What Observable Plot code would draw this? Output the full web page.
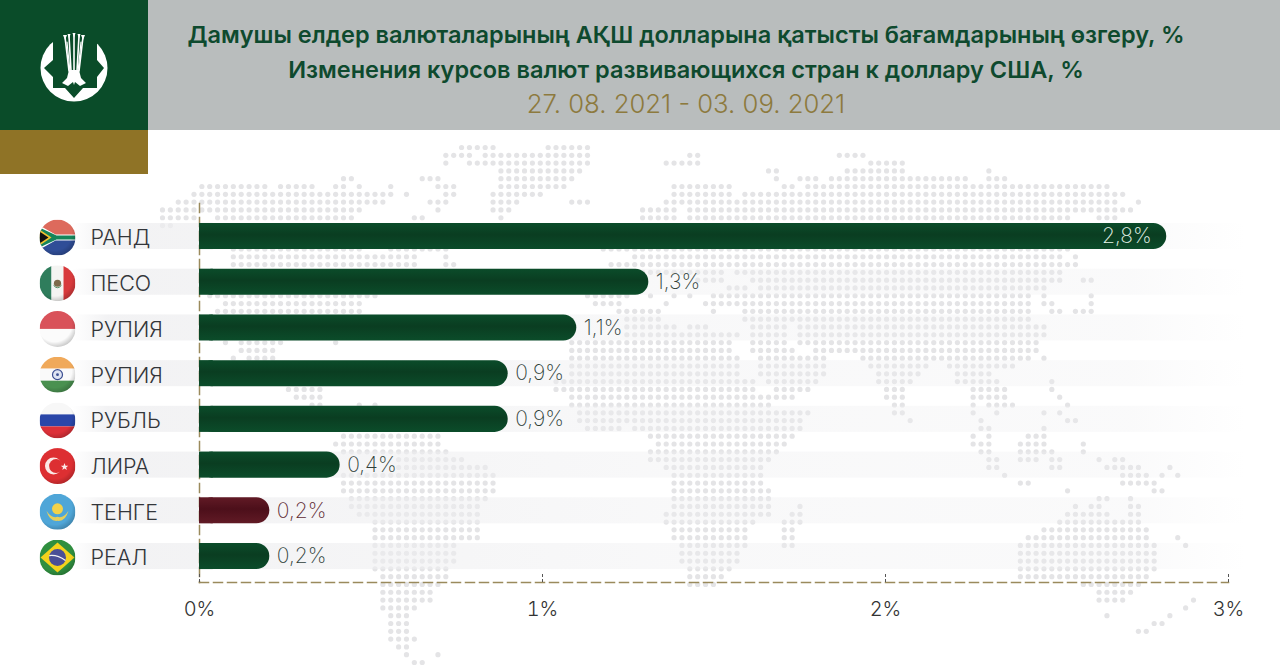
<!DOCTYPE html>
<html lang="ru">
<head>
<meta charset="utf-8">
<script src="https://cdn.jsdelivr.net/npm/d3@7"></script>
<script src="https://cdn.jsdelivr.net/npm/@observablehq/plot@0.6"></script>
<style>
html,body{margin:0;padding:0;background:#fff;width:1280px;height:668px;overflow:hidden}
body{position:relative;font-family:Inter,"Open Sans",sans-serif}
#band{position:absolute;left:148px;top:0;width:1132px;height:130px;background:#b9bdbd}
#green{position:absolute;left:0;top:0;width:148px;height:130px;background:#0a4c29}
#gold{position:absolute;left:0;top:130px;width:148px;height:44px;background:#8f7326}
#logo{position:absolute;left:34px;top:28px}
.t{position:absolute;left:148px;width:1076px;text-align:center;white-space:nowrap}
#t1,#t2{font-size:23.5px;font-weight:600;color:#0e4a2e;line-height:30px}
#t1{top:20px}#t2{top:55px}
#t3{top:87px;font-size:25.7px;font-weight:300;color:#8d7a3e;line-height:34px}
#map,#chart{position:absolute;left:0}
#map{top:0}#chart{top:130px}
svg{background:transparent!important;font-family:Inter,"Open Sans",sans-serif}
</style>
</head>
<body>
<div id="map"></div>
<div id="band"></div>
<div id="green"></div>
<div id="gold"></div>
<svg id="logo" width="80" height="80" viewBox="0 0 80 80" style="overflow:visible">
<circle cx="40" cy="40" r="33.5" fill="#fff"/>
<path d="M10 40 L19 32 V-4 H63 V32 L70 40 L63 49 V60 H49 L40 70 L31 60 H19 V49 Z" fill="#0a4c29"/>
<g stroke="#fff" fill="none" stroke-linecap="round">
<path d="M31 9 L35 43 M35 8 L37 43 M40 7 V45 M45 8 L43 43 M49 9 L45 43" stroke-width="1.6"/>
<path d="M33 14 L36 44 H44 L47 14" stroke-width="1.2"/>
</g>
<path d="M29 7 L31 12 L33 7Z M33.500 6 L35 11 L36.500 6Z M38.500 5 L40 10 L41.500 5Z M43.500 6 L45 11 L46.500 6Z M47 7 L49 12 L51 7Z" fill="#fff"/>
<path d="M35 42 H45 L47 50 L52 55 L46 58 L41 54 L40 57 L39 54 L34 58 L28 55 L33 50Z" fill="#fff"/>
</svg>
<div id="t1" class="t">Дамушы елдер валюталарының АҚШ долларына қатысты бағамдарының өзгеру, %</div>
<div id="t2" class="t">Изменения курсов валют развивающихся стран к доллару США, %</div>
<div id="t3" class="t">27. 08. 2021 - 03. 09. 2021</div>
<div id="chart"></div>
<script>
// Chart values
const currencies = ["РАНД","ПЕСО","РУПИЯ ","РУПИЯ","РУБЛЬ","ЛИРА","ТЕНГЕ","РЕАЛ"];
const changes = [2.82,1.31,1.10,0.90,0.90,0.41,0.205,0.205];
const shown = ["2,8%","1,3%","1,1%","0,9%","0,9%","0,4%","0,2%","0,2%"];
const barTone = ["g","g","g","g","g","g","r","g"];
const axisTicks = [0,1,2,3];

// Dotted world map: one entry per grid row, runs of occupied grid columns
const mapRows = [
"38-42 49-54","36-39 41-54 67-68 86-89","36 39-54 64-68 90-94","43-53 77-78 87-94 105",
"23-24 33-35 43-52 78 81-83 85-102 105-107","5-13 15-19 22-23 25 29 35-37 43-51 65-72 79-80 82-120",
"4-29 31 36-37 42-48 65-72 74-122","2-28 34-36 42-45 52-54 64-121 124","0-25 35 42-44 61-65 67-123",
"0-4 7-24 32-33 43 61-65 67-115 119-121","0-1","","",
"9-25 29-36 56-115","9-32 36 60-114 116","9-32 36-37 57-116","60-71 73-114","68-71 75-114 117-118","72-74 76-112",
"6-27 54-59 62 65 67 70-110 112 118","8-25 55-58 64 69-110 112-113 118","7-25 58-63 70 74-110 113-114 116-118",
"59-63 74-110","59-65 67-69 75-79 81-112","59-73 75-79 81-112","8 10-15 22 52-72 75-79 81-111","10-14 52-72 75-80 83-111",
"9 11-14 52-73 76-84 89-110 112","52-73 76-84 90-97 100-108","52-73 76-84 91-96 101-105","50-75 77-83 91-95 101-106 113",
"16-20 50-75 78-82 92-94 103-107 113","17-20 52-80 92-94 103-107 114","19-20 25 27 52-77 93-94 103 105-108 115",
"53-82 93-94 103 106 112 114","53-81 95 104 115-116","54-58 60-81 104-105 112","23-35 62-80 103 105 110-112",
"22-35 63-79 103-105 109-112 117","23-36 62-78 104-105 109-113 117","30-38 62-77 105-106 109-111 113-114 119 121-122",
"30-41 64-76 105-106 113-114 120-124 128","23-42 65-76 107 122-125 127 129","23-42 65-76 109-110 122-126",
"23-42 65-77 115 126-127","24-41 65-77 119-120 123","24-40 65-77 81 116 118-119 123-124","25-40 64-77 80-81 115-120 123-124",
"27-40 64-75 79-81 114-124","27-40 65-74 79-80 112-125","27-40 65-74 79-80 110-125 129","27-37 66-74 79-80 109-126 130",
"27-37 66-73 109-126","27-37 66-73 109-126","27-36 67-72 109-126","28-36 67-71 109-125","28-35 67-70 117-124",
"28-34 119-123","28-34 119-122 131","28-32 130","29-31 120 128","29-31 126-127","29-31 124-125","29-32","30-31","31 35","32-33"
];

// Round flags, one small picture per row
const wrap = s => "data:image/svg+xml," + encodeURIComponent(
 `<svg xmlns="http://www.w3.org/2000/svg" viewBox="0 0 36 36"><defs><radialGradient id="s" cx=".42" cy=".38" r=".68"><stop offset=".7" stop-color="#000" stop-opacity="0"/><stop offset="1" stop-color="#000" stop-opacity=".25"/></radialGradient></defs>${s}<rect width="36" height="36" fill="url(#s)"/></svg>`);
const flags = [
 wrap(`<rect width="36" height="18" fill="#dd6a5c"/><rect y="18" width="36" height="18" fill="#2f4d97"/><path d="M0 6 L16 15 H36 V21 H16 L0 30Z" fill="#fff"/><path d="M0 8 L17 16 H36 V20 H17 L0 28Z" fill="#16855a"/><path d="M0 10 L12 18 L0 26Z" fill="#f2c230"/><path d="M0 12 L9 18 L0 24Z" fill="#111"/>`),
 wrap(`<rect width="12" height="36" fill="#2f7d5c"/><rect x="12" width="12" height="36" fill="#f4f4f2"/><rect x="24" width="12" height="36" fill="#d83a3c"/><circle cx="18" cy="18" r="3.6" fill="#7d6a4a"/><path d="M14 20 Q18 25 22 20" stroke="#4c8a5c" fill="none"/>`),
 wrap(`<rect width="36" height="18" fill="#d9525a"/><rect y="18" width="36" height="18" fill="#fbfbfb"/>`),
 wrap(`<rect width="36" height="12" fill="#f0a95a"/><rect y="12" width="36" height="12" fill="#fafafa"/><rect y="24" width="36" height="12" fill="#4a9150"/><circle cx="18" cy="18" r="5" fill="#dfe4f2" stroke="#3c4f92" stroke-width="1.2"/><circle cx="18" cy="18" r="1.4" fill="#3c4f92"/>`),
 wrap(`<rect width="36" height="12" fill="#f7f7f7"/><rect y="12" width="36" height="12" fill="#2a46a8"/><rect y="24" width="36" height="12" fill="#dc3038"/>`),
 wrap(`<rect width="36" height="36" fill="#dd2f32"/><circle cx="14" cy="18" r="8.5" fill="#fbe9e6"/><circle cx="16.6" cy="18" r="7" fill="#dd2f32"/><path d="M25 15 L26 17.6 L28.8 17.7 L26.6 19.4 L27.4 22 L25 20.5 L22.8 22 L23.5 19.4 L21.3 17.7 L24 17.6Z" fill="#fbe9e6"/>`),
 wrap(`<rect width="36" height="36" fill="#4fa6d8"/><circle cx="18" cy="15" r="5.5" fill="#f3d24a"/><path d="M7 17 Q12 25 18 23 Q24 25 29 17 Q26 28 18 27 Q10 28 7 17Z" fill="#e7cf5a"/>`),
 wrap(`<rect width="36" height="36" fill="#2f8f3f"/><path d="M18 3 L35 18 L18 33 L1 18Z" fill="#f4d21c"/><circle cx="18" cy="18" r="8.5" fill="#4a4f96"/><path d="M9.8 16 Q18 15 26 21" stroke="#f3f3f3" stroke-width="1.2" fill="none"/>`)
];

const rows = currencies.map((c,i)=>({c,v:changes[i],s:shown[i],t:barTone[i],f:flags[i]}));
const dots = mapRows.flatMap((runs,row)=>runs.split(" ").filter(Boolean).flatMap(run=>{
  const [a,b=a] = run.split("-").map(Number);
  return d3.range(a,b+1).map(col=>({col,row}));
}));

const map = Plot.plot({
  width:1280,height:668,margin:0,
  x:{axis:null,domain:[0,131],range:[162,1193]},
  y:{axis:null,domain:[0,66],range:[147,662]},
  marks:[Plot.dot(dots,{x:"col",y:"row",r:2.6,fill:"#e4e4e6"})]
});
document.getElementById("map").append(map);

const defs = () => {
  const d = d3.create("svg:defs");
  const v = (id,a,b) => {
    const g = d.append("linearGradient").attr("id",id).attr("x1",0).attr("y1",0).attr("x2",0).attr("y2",1);
    [[0,a],[.45,b],[1,a]].forEach(([o,c])=>g.append("stop").attr("offset",o).attr("stop-color",c));
  };
  v("barG","#0b4c2a","#0a3d21");
  v("barR","#611a25","#4c0f1a");
  const h = d.append("linearGradient").attr("id","rowG");
  [[0,0],[.03,.75],[.12,.7],[.5,.4],[.9,.3],[1,0]].forEach(([o,a])=>h.append("stop").attr("offset",o).attr("stop-color","#eeeef0").attr("stop-opacity",a));
  return d.node();
};
const fillOf = d => d.t==="r" ? "url(#barR)" : "url(#barG)";
const gold = "#9a8a5c";

const chart = Plot.plot({
  width:1280,height:538,
  marginLeft:199,marginRight:52,marginTop:73,marginBottom:86,
  x:{domain:[0,3],axis:null},
  y:{domain:currencies,axis:null,paddingInner:.43,paddingOuter:.36,align:.607,round:false},
  marks:[
    defs,
    Plot.barX(rows,{x1:()=>-0.37,x2:()=>3.05,y:"c",fill:"url(#rowG)"}),
    Plot.frame({anchor:"left",stroke:gold,strokeDasharray:"9 5",strokeWidth:1.5}),
    Plot.frame({anchor:"bottom",stroke:gold,strokeDasharray:"9 5",strokeWidth:1.5}),
    Plot.axisX({ticks:axisTicks,label:null,tickSize:-10,tickPadding:29,stroke:"#555",fill:"#333",strokeDasharray:"3 2",fontSize:20,fontWeight:300,tickFormat:d=>d+"%"}),
    Plot.barX(rows,{x1:()=>0,x2:"v",y:"c",fill:fillOf,rx:13}),
    Plot.barX(rows,{x1:()=>0,x2:()=>0.04,y:"c",fill:fillOf}),
    Plot.text(rows.filter(d=>d.v<2),{x:"v",y:"c",text:"s",textAnchor:"start",dx:7,fontSize:21,fontWeight:200,fill:d=>d.t==="r"?"#5e2a33":"#2f3f39"}),
    Plot.text(rows.filter(d=>d.v>=2),{x:"v",y:"c",text:"s",textAnchor:"end",dx:-15,fontSize:21,fontWeight:200,fill:"#e6f6ea"}),
    Plot.text(rows,{x:()=>-0.318,y:"c",text:d=>d.c.trim(),textAnchor:"start",fontSize:21.5,fontWeight:300,fill:"#33363a",dy:2}),
    Plot.image(rows,{x:()=>-0.414,y:"c",src:"f",r:18,dy:1})
  ]
});
document.getElementById("chart").append(chart);
</script>
</body>
</html>
